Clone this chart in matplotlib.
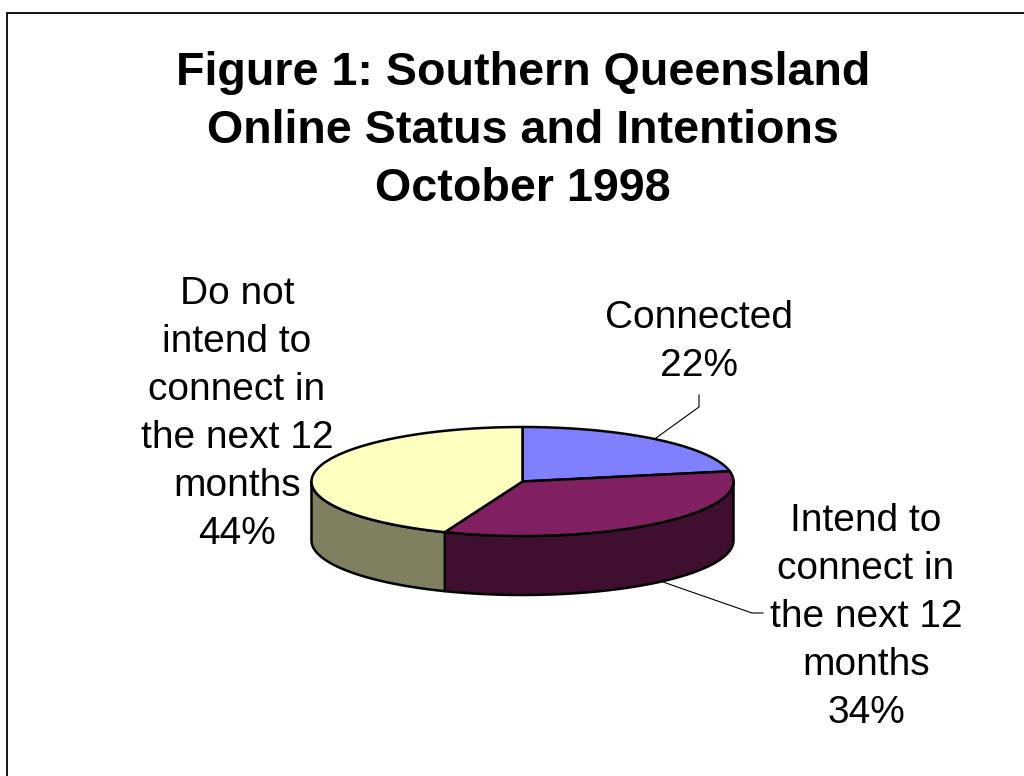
import numpy as np
import matplotlib
matplotlib.use("Agg")
import matplotlib.pyplot as plt

plt.rcParams['font.family'] = ['Liberation Sans', 'DejaVu Sans']

# data
categories = ["Connected", "Intend to\nconnect in\nthe next 12\nmonths", "Do not\nintend to\nconnect in\nthe next 12\nmonths"]
shares = [22, 34, 44]
top_colors = ["#8080FF", "#802060", "#FFFFC0"]
side_colors = ["#404080", "#400F30", "#808060"]
title = "Figure 1: Southern Queensland\nOnline Status and Intentions\nOctober 1998"

# pie geometry in pixels of the picture
cx, cy = 522.5, 481.5
rx, ry = 211, 54.5
depth = 59


def rim(theta):
    # theta in degrees, clockwise from 12 o'clock
    t = np.radians(theta)
    return cx + rx * np.sin(t), cy - ry * np.cos(t)


fig = plt.figure(figsize=(10.24, 7.76), dpi=100)
ax = fig.add_axes([0, 0, 1, 1])
ax.set_xlim(0, 1024)
ax.set_ylim(776, 0)
ax.axis("off")

# frame, only left and top are in the picture
ax.plot([7, 7, 1024], [776, 12.5, 12.5], color="black", lw=1.3, solid_joinstyle="miter")

# leader lines
ax.plot([699, 699, 656], [395, 407, 438], color="black", lw=0.8)
ax.plot([663, 752, 763], [582, 613, 613], color="black", lw=0.8)

# start and end angle of each slice
edges = np.concatenate([[0], np.cumsum(shares)]) * 3.6

# side walls, only the front half (90..270) can be seen
for i in range(len(shares)):
    a = max(edges[i], 90)
    b = min(edges[i + 1], 270)
    if b <= a:
        continue
    th = np.linspace(a, b, 120)
    x, y = rim(th)
    xs = np.concatenate([x, x[::-1]])
    ys = np.concatenate([y, y[::-1] + depth])
    ax.fill(xs, ys, facecolor=side_colors[i], edgecolor="black", lw=1.8, joinstyle="round")

# top of the pie
for i in range(len(shares)):
    th = np.linspace(edges[i], edges[i + 1], 200)
    x, y = rim(th)
    xs = np.concatenate([[cx], x])
    ys = np.concatenate([[cy], y])
    ax.fill(xs, ys, facecolor=top_colors[i], edgecolor="black", lw=1.8, joinstyle="round")

# texts
ax.text(523, 131, title, ha="center", va="center", fontsize=33.6, fontweight="bold", linespacing=1.415)
ax.text(699, 342, categories[0] + "\n" + str(shares[0]) + "%", ha="center", va="center", fontsize=28, linespacing=1.424)
ax.text(866, 617, categories[1] + "\n" + str(shares[1]) + "%", ha="center", va="center", fontsize=28, linespacing=1.424)
ax.text(237, 414, categories[2] + "\n" + str(shares[2]) + "%", ha="center", va="center", fontsize=28, linespacing=1.424)

fig.savefig("out.png", dpi=100)
